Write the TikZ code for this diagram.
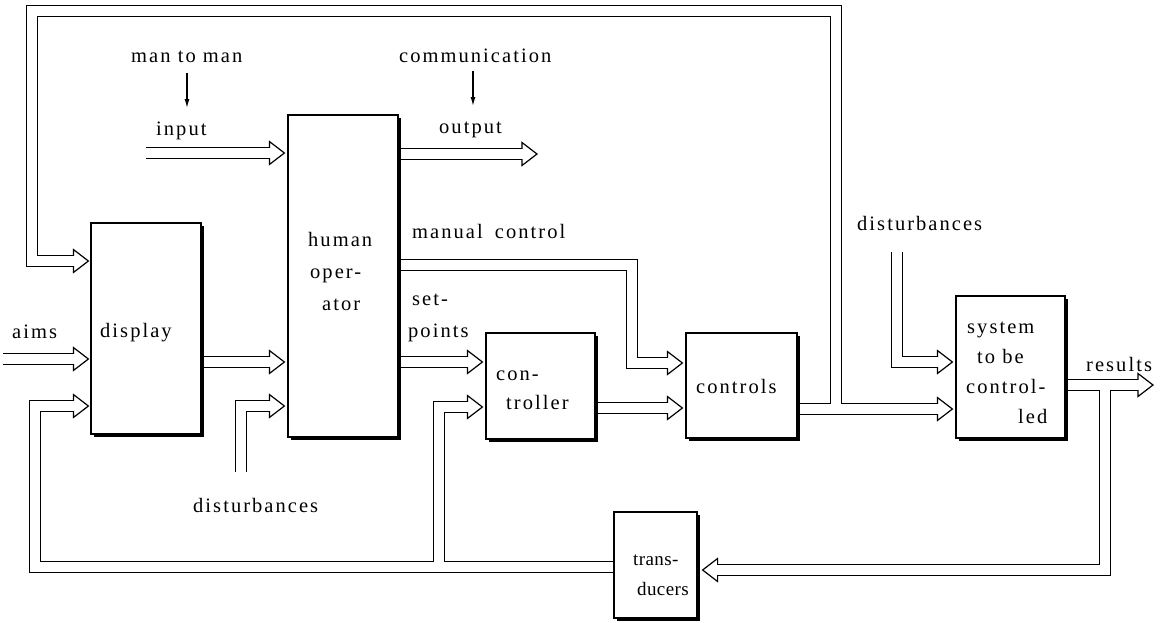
\documentclass[tikz,border=0pt]{standalone}
\usepackage{fontspec}
\setmainfont{Liberation Serif}[LetterSpace=10]
\newfontfamily\tightfont{Liberation Serif}[LetterSpace=2]
\usetikzlibrary{calc,shadows,arrows.meta}
\pgfdeclarelayer{bg}
\pgfsetlayers{bg,main}
\begin{document}
\begin{tikzpicture}[x=1pt,y=-1pt,line join=miter,line cap=butt,
  box/.style={draw,line width=1.2pt,fill=white,inner sep=0pt,
    general shadow={fill=black,shadow xshift=3pt,shadow yshift=-3pt}},
  txt/.style={anchor=base west,inner sep=0pt,font=\fontsize{20.5}{24}\selectfont},
  tighttxt/.style={anchor=base west,inner sep=0pt,font=\fontsize{19}{23}\tightfont},
  hd/.style={line width=1.2pt,line join=miter},
  tarrow/.style={line width=1.2pt,-{Latex[length=9pt,width=5pt]}},
  pass/.style={line width=11.6pt},
  dhead/.pic={
    \fill[white] (-15,-11.5) -- (0,0) -- (-15,11.5) -- cycle;
    \draw[hd] (-15,-5.2) -- (-15,-11.5) -- (0,0) -- (-15,11.5) -- (-15,5.2);
  }]
\useasboundingbox (0,0) rectangle (1163,622);

% ---------- boxes ----------
\node[box,minimum width=110pt,minimum height=211pt] (display) at (146,328.5) {};
\node[box,minimum width=110pt,minimum height=322pt] (human) at (343,276) {};
\node[box,minimum width=109pt,minimum height=106pt] (controller) at (540.5,386) {};
\node[box,minimum width=111pt,minimum height=105pt] (controls) at (741.5,385.5) {};
\node[box,minimum width=109pt,minimum height=142pt] (system) at (1010.5,367) {};
\node[box,minimum width=83pt,minimum height=106pt] (transducers) at (655.5,565) {};

% ---------- arrow tips and bases ----------
\coordinate (tA)    at ($(display.west |- 0,261)+(-2,0)$);
\coordinate (tAims) at ($(display.west |- 0,359)+(-2,0)$);
\coordinate (tFb)   at ($(display.west |- 0,406)+(-2,0)$);
\coordinate (tIn)   at ($(human.west |- 0,153)+(-3,0)$);
\coordinate (tDH)   at ($(human.west |- 0,362)+(-3,0)$);
\coordinate (tDist) at ($(human.west |- 0,406)+(-3,0)$);
\coordinate (tOut)  at (537,154);
\coordinate (tSet)  at ($(controller.west |- 0,362)+(-3,0)$);
\coordinate (tCfb)  at ($(controller.west |- 0,407)+(-3,0)$);
\coordinate (tMan)  at ($(controls.west |- 0,363)+(-3,0)$);
\coordinate (tCC)   at ($(controls.west |- 0,408)+(-3,0)$);
\coordinate (tSD)   at ($(system.west |- 0,362)+(-3,0)$);
\coordinate (tSC)   at ($(system.west |- 0,409)+(-3,0)$);
\coordinate (tRes)  at (1153,385);
\coordinate (tTr)   at ($(transducers.east |- 0,570)+(5,0)$);
\foreach \n in {A,Aims,Fb,In,DH,Dist,Out,Set,Cfb,Man,CC,SD,SC,Res}
  {\coordinate (b\n) at ($(t\n)+(-15,0)$);}
\coordinate (bTr) at ($(tTr)+(15,0)$);

% free ends and junctions
\coordinate (aimsStart) at (3,359);
\coordinate (inStart)   at (146,153);
\coordinate (distStart) at (241,472);
\coordinate (sdStart)   at (897,252);
\coordinate (j1) at (836,409);
\coordinate (j2) at (439,567);
\coordinate (j3) at (1105,385);

\newcommand\conns{%
  \draw[pass] (controls.east |- 0,409) -- (j1) -- (j1 |- 0,11) -- (32,11) -- (32,261) -- (bA);
  \draw[pass] (j1) -- (bSC);
  \draw[pass] (aimsStart) -- (bAims);
  \draw[pass] (transducers.west |- 0,567) -- (35,567) -- (35,406) -- (bFb);
  \draw[pass] (j2) -- (j2 |- 0,407) -- (bCfb);
  \draw[pass] (inStart) -- (bIn);
  \draw[pass] (display.east |- 0,362) -- (bDH);
  \draw[pass] (distStart) -- (distStart |- 0,406) -- (bDist);
  \draw[pass] (human.east |- 0,154) -- (bOut);
  \draw[pass] (human.east |- 0,362) -- (bSet);
  \draw[pass] (human.east |- 0,265) -- (632,265) -- (632,363) -- (bMan);
  \draw[pass] (controller.east |- 0,408) -- (bCC);
  \draw[pass] (sdStart) -- (sdStart |- 0,362) -- (bSD);
  \draw[pass] (system.east |- 0,385) -- (bRes);
  \draw[pass] (j3) -- (j3 |- 0,570) -- (bTr);
}
\begin{pgfonlayer}{bg}
  \tikzset{pass/.style={line width=11.6pt,black}}
  \conns
  \tikzset{pass/.style={line width=9.2pt,white}}
  \conns
\end{pgfonlayer}

% ---------- double arrow heads ----------
\foreach \n in {A,Aims,Fb,In,DH,Dist,Out,Set,Cfb,Man,CC,SD,SC,Res}
  {\pic at (t\n) {dhead};}
\pic[xscale=-1] at (tTr) {dhead};

% ---------- texts ----------
\node[txt] (mtm) at (131,62) {man to man};
\node[txt] (comm) at (399,62) {communication};
\node[txt] (inp) at (156,135) {input};
\node[txt] (outp) at (439,133) {output};
\node[txt] (manc) at (412,238) {manual\hspace{5pt} control};
\node[txt] (set1) at (412,305) {set-};
\node[txt] (set2) at (408,337) {points};
\node[txt] (aims) at (12,338) {aims};
\node[txt] (disptx) at (100,337) {display};
\node[txt] (hum1) at (308,246) {human};
\node[txt] (hum2) at (310,278) {oper-};
\node[txt] (hum3) at (322,310) {ator};
\node[txt] (con1) at (496,380) {con-};
\node[txt] (con2) at (506,409) {troller};
\node[txt] (ctl) at (696,393) {controls};
\node[txt] (sys1) at (967,333) {system};
\node[txt] (sys2) at (977,363) {to be};
\node[txt] (sys3) at (966,393) {control-};
\node[txt] (sys4) at (1018,423) {led};
\node[txt] (dist1) at (193,512) {disturbances};
\node[txt] (dist2) at (857,230) {disturbances};
\node[txt] (res) at (1086,371) {results};
\node[tighttxt] (tr1) at (633,565) {trans-};
\node[tighttxt] (tr2) at (637,595) {ducers};

% ---------- thin arrows ----------
\draw[tarrow,shorten <=11pt,shorten >=27pt] (mtm.base -| 187,0) -- (inp.base -| 187,0);
\draw[tarrow,shorten <=9pt,shorten >=27pt] (comm.base -| 473,0) -- (outp.base -| 473,0);
\end{tikzpicture}
\end{document}
